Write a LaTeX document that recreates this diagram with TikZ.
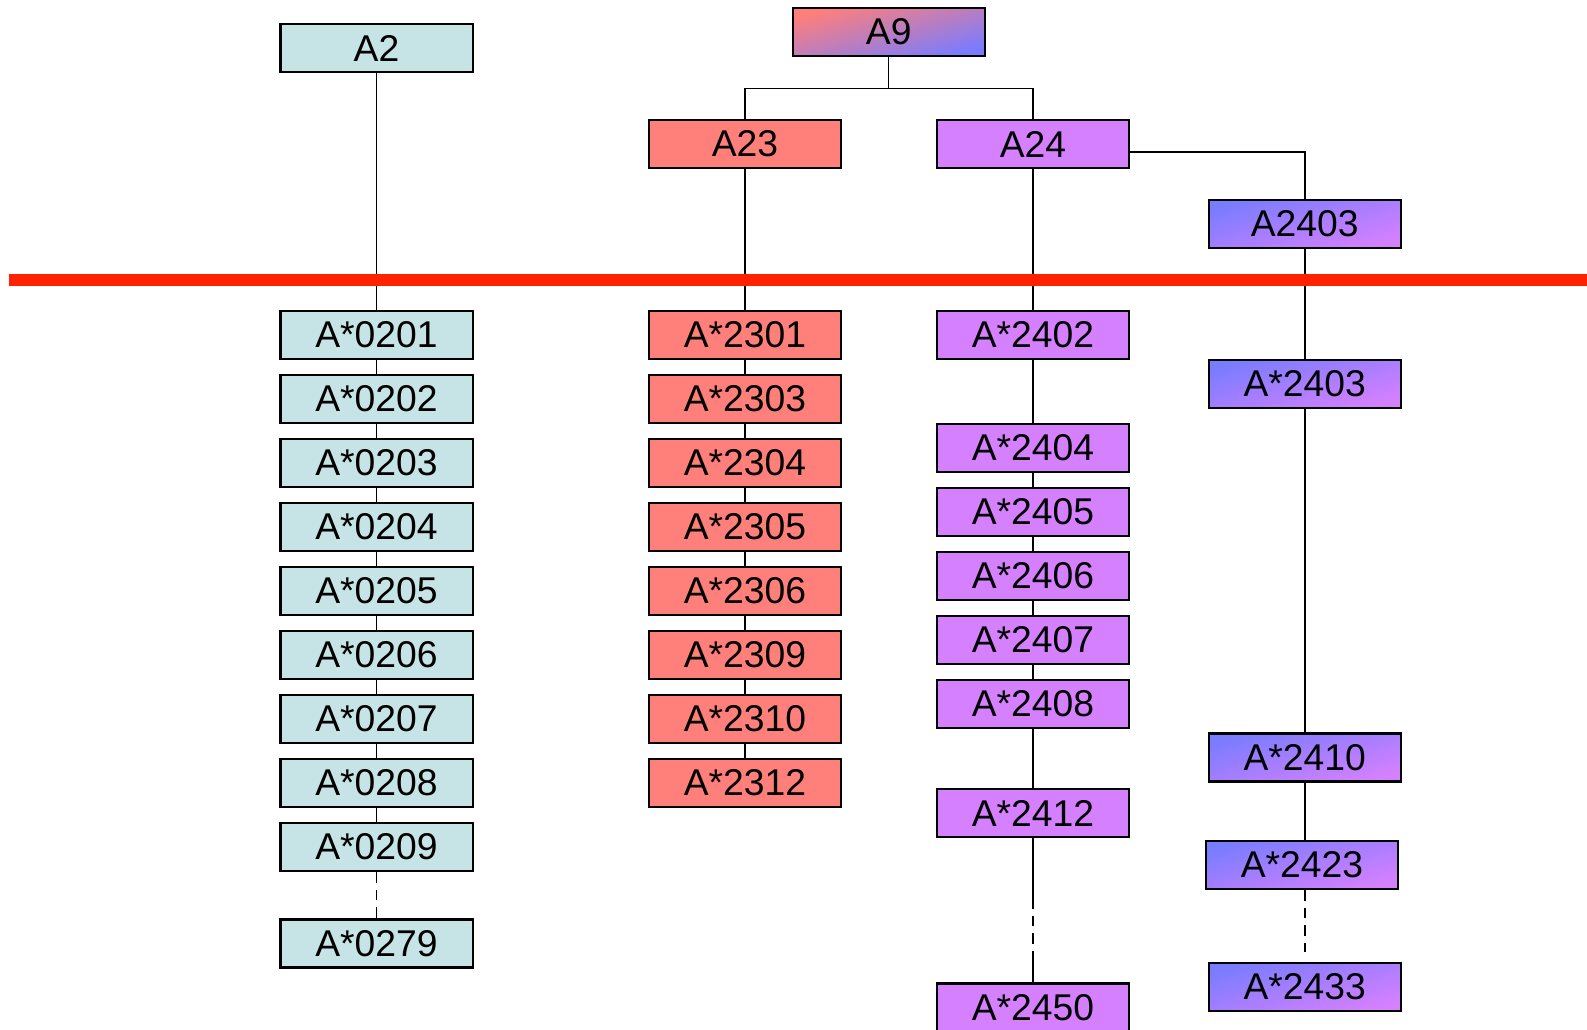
\documentclass[tikz,border=0pt]{standalone}
\usepackage{fontspec}
\setmainfont{Liberation Sans}
\usetikzlibrary{backgrounds}
\definecolor{paleteal}{RGB}{198,228,230}
\definecolor{salmon}{RGB}{255,127,122}
\definecolor{orchid}{RGB}{213,128,255}
\definecolor{bluish}{RGB}{122,124,255}
\definecolor{cutred}{RGB}{255,34,0}
\begin{document}
\begin{tikzpicture}[
    x=0.01cm, y=-0.01cm,
    box/.style={draw, line width=0.6pt, minimum width=1.92cm, minimum height=0.48cm,
      inner sep=0pt, font=\fontsize{10.6}{12.7}\selectfont},
    a9box/.style={box, top color=salmon, bottom color=bluish, shading angle=16},
    a2col/.style={box, fill=paleteal},
    a23col/.style={box, fill=salmon},
    a24col/.style={box, fill=orchid},
    a2403col/.style={box, top color=bluish, bottom color=orchid, shading angle=16},
    link/.style={line width=0.45pt},
    dots/.style={link, dash pattern=on 3pt off 2pt},
    cutline/.style={line width=3.3pt, cutred}
]
  \useasboundingbox (0,0) rectangle (1587,1029);

  % broad groups
  \node[a9box] (A9) at (888.7,31.7) {A9};
  \node[a2col] (A2) at (376.5,48) {A2};
  \node[a23col] (A23) at (745,144) {A23};
  \node[a24col] (A24) at (1033,144) {A24};
  \node[a2403col] (A2403) at (1304.7,224) {A2403};

  % alleles
  \foreach \n [count=\i from 0] in {1,...,9}
    \node[a2col] (a020\n) at (376.5,{335+64*\i}) {A*020\n};
  \node[a2col] (a0279) at (376.5,943.5) {A*0279};

  \foreach \n [count=\i from 0] in {01,03,04,05,06,09,10,12}
    \node[a23col] (a23\n) at (745,{335+64*\i}) {A*23\n};

  \node[a24col] (a2402) at (1033,335) {A*2402};
  \foreach \n [count=\i from 0] in {04,05,06,07,08}
    \node[a24col] (a24\n) at (1033,{448+64*\i}) {A*24\n};
  \node[a24col] (a2412) at (1033,813) {A*2412};
  \node[a24col] (a2450) at (1033,1007.5) {A*2450};

  \node[a2403col] (s2403) at (1304.7,384) {A*2403};
  \node[a2403col] (s2410) at (1304.7,757.5) {A*2410};
  \node[a2403col] (s2423) at (1302,865) {A*2423};
  \node[a2403col] (s2433) at (1304.7,987) {A*2433};

  \coordinate (fork) at (888.7,88.3);
  \coordinate (bend) at (1304.7,151.7);
  \coordinate (d1) at (1033,898);
  \coordinate (d2) at (1033,957);
  \coordinate (e33) at (1304.7,952);

  \begin{scope}[on background layer]
    \draw[link] (A9) -- (fork);
    \draw[link] (A23.north) |- (fork) -| (A24.north);
    \draw[link] (A24.east |- bend) -- (bend) -- (A2403);
    \draw[link] (A2) -- (a0209);
    \draw[dots] (a0209) -- (a0279);
    \draw[link] (A23) -- (a2312);
    \draw[link] (A24) -- (a2412);
    \draw[link] (a2412) -- (d1);
    \draw[dots] (d1) -- (d2);
    \draw[link] (d2) -- (a2450);
    \draw[link] (A2403) -- (s2410);
    \draw[link] (s2410) -- (s2410 |- s2423.north);
    \draw[dots] (s2410 |- s2423.south) -- (e33);
  \end{scope}

  % HLA cut
  \draw[cutline] (9,280) -- (1587,280);
\end{tikzpicture}
\end{document}
